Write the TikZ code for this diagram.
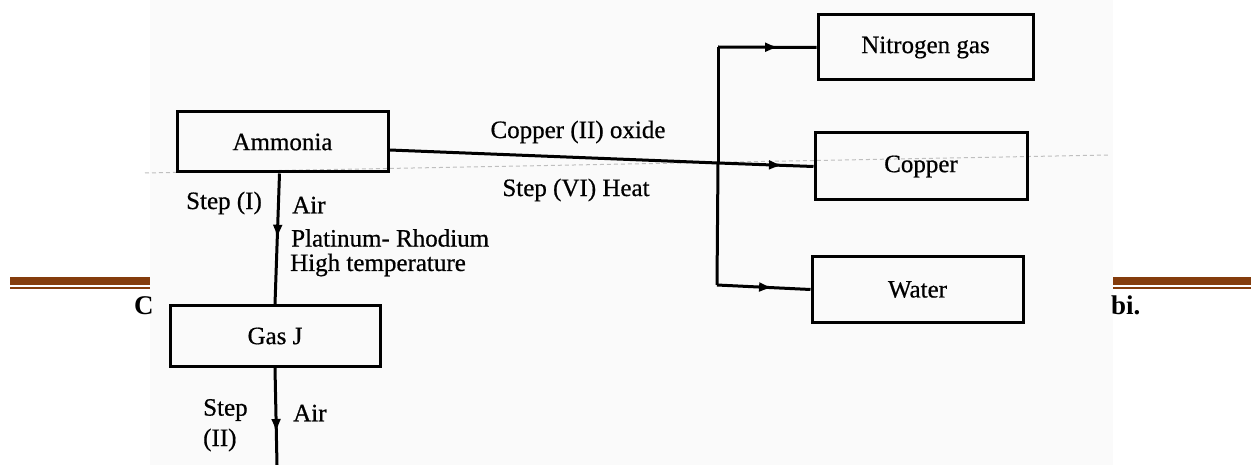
\documentclass[tikz,border=0pt]{standalone}
\usepackage{fontspec}
\setmainfont{Liberation Serif}
\newfontfamily\scanfont[FakeBold=0.6]{Liberation Serif}
\usetikzlibrary{arrows.meta,decorations.markings}
\definecolor{barbrown}{RGB}{132,60,12}
\definecolor{scanbg}{RGB}{250,250,250}
\begin{document}
\begin{tikzpicture}[x=1pt,y=-1pt,
  every node/.style={font=\scanfont\fontsize{25}{29}\selectfont},
  box/.style={draw, line width=3pt, inner sep=0pt},
  lbl/.style={inner sep=0pt},
  conn/.style={line width=3pt},
  midarrow/.style={postaction={decorate},
    decoration={markings, mark=at position #1 with {\arrow{Latex[length=14pt,width=10pt]}}}},
  footer/.style={inner sep=0pt, anchor=base west, font=\rmfamily\fontsize{27}{30}\selectfont\bfseries}]
\useasboundingbox (0,0) rectangle (1251,465);
% page footer behind the scan
\fill[barbrown] (10,277) rectangle (150,285);
\fill[barbrown] (10,287) rectangle (150,289);
\fill[barbrown] (1111,277) rectangle (1251,285);
\fill[barbrown] (1111,287) rectangle (1251,289);
% scanned area
\fill[scanbg] (150,0) rectangle (1113,465);
\node[footer] (cfoot) at (134,315) {C};
\node[footer] (bifoot) at (1111,315) {bi.};
\coordinate (sa) at (145,173);
\coordinate (sb) at (1110,155);
\draw[gray!50, line width=1pt, dash pattern=on 4pt off 3pt] (sa) -- (sb);
% boxes
\node[box, minimum width=211pt, minimum height=60pt] (ammonia) at (282.5,142) {Ammonia};
\node[box, minimum width=215pt, minimum height=65pt] (nitrogen) at (925.5,47.5) {Nitrogen gas};
\node[box, minimum width=212pt, minimum height=67pt] (copper) at (921,166.5) {Copper};
\node[box, minimum width=211pt, minimum height=65pt] (water) at (917.5,289.5) {Water};
\node[box, minimum width=210pt, minimum height=61pt] (gasj) at (275,336) {Gas J};
% junction coordinates
\coordinate (j) at (718,163);
\coordinate (jn) at (718,47);
\coordinate (jw) at (717,285);
\coordinate (down) at (277,465);
% connectors
\draw[conn] ([yshift=-8pt]ammonia.east) -- (j);
\draw[conn, midarrow=0.68] (j) -- (copper.west);
\draw[conn] (j) -- (jn);
\draw[conn, midarrow=0.62] (jn) -- (nitrogen.west);
\draw[conn] (j) -- (jw);
\draw[conn, midarrow=0.6] (jw) -- (water.west);
\draw[conn, midarrow=0.5] ([xshift=-3pt]ammonia.south) -- (gasj.north);
\draw[conn, midarrow=0.67] (gasj.south) -- (down);
% labels
\node[lbl] (cuo) at (578,132) {Copper (II) oxide};
\node[lbl] (step6) at (576,190) {Step (VI) Heat};
\node[lbl] (step1) at (224,203) {Step (I)};
\node[lbl, anchor=west] (air1) at (292,205) {Air};
\node[lbl, anchor=west] (ptrh) at (291,238) {Platinum- Rhodium};
\node[lbl, anchor=west] (hight) at (290,265) {High temperature};
\node[lbl, anchor=west] (step2a) at (203,410) {Step};
\node[lbl, anchor=west] (step2b) at (203,440) {(II)};
\node[lbl, anchor=west] (air2) at (293,413) {Air};
\end{tikzpicture}
\end{document}
